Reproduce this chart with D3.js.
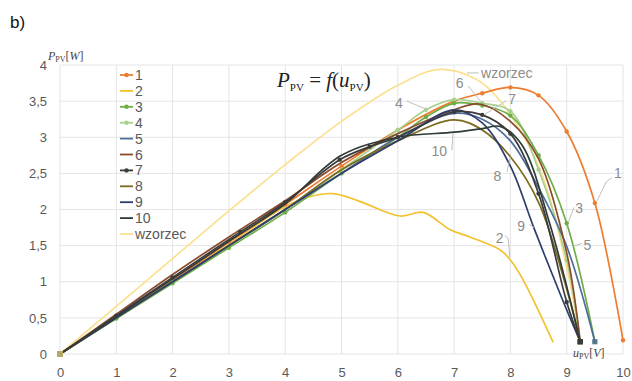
<!DOCTYPE html>
<html><head><meta charset="utf-8">
<script src="https://cdn.jsdelivr.net/npm/d3@7"></script>
<style>body{margin:0;background:#fff}svg{display:block}</style>
</head><body><svg id="c" width="632" height="381"></svg>
<script>
// ---- data (x = u_PV [V], y = P_PV [W]) ----
const seriesNames = ["1","2","3","4","5","6","7","8","9","10","wzorzec"];
const s1 = [[0,0],[1,0.5],[2,1.02],[3,1.55],[4,2.07],[5,2.6],[6,3.1],[7,3.5],[7.5,3.61],[8,3.69],[8.5,3.58],[9,3.08],[9.5,2.09],[10,0.19]];
const s2 = [[0,0],[1,0.5],[2,1.0],[3,1.52],[4,2.04],[4.4,2.17],[4.85,2.22],[5.3,2.12],[6.04,1.91],[6.45,1.96],[6.93,1.72],[7.28,1.62],[7.82,1.44],[8.0,1.30],[8.23,1.02],[8.76,0.16]];
const s3 = [[0,0],[1,0.49],[2,0.98],[3,1.47],[4,1.96],[5,2.5],[6,3.0],[6.5,3.28],[7,3.47],[7.5,3.44],[8,3.3],[8.5,2.75],[9,1.81],[9.5,0.17]];
const s4 = [[0,0],[1,0.5],[2,1.0],[3,1.5],[4,2.0],[5,2.55],[6,3.1],[6.5,3.38],[7,3.52],[7.5,3.47],[8,3.36],[8.5,2.55],[9,1.3],[9.24,0.17]];
const s5 = [[0,0],[1,0.5],[2,1.0],[3,1.5],[4,2.0],[5,2.5],[6,3.0],[7,3.33],[7.5,3.25],[8,2.95],[8.5,2.3],[9,1.49],[9.5,0.17]];
const s6 = [[0,0],[1,0.55],[2,1.1],[3,1.62],[4,2.12],[5,2.65],[6,3.05],[7,3.38],[7.45,3.46],[8,3.22],[8.5,2.7],[9,1.4],[9.24,0.17]];
const s7 = [[0,0],[1,0.53],[2,1.06],[3.2,1.69],[4,2.1],[4.97,2.69],[5.5,2.87],[6,3.0],[7,3.35],[7.5,3.31],[8,3.05],[8.5,2.22],[9,0.72],[9.24,0.17]];
const s8 = [[0,0],[1,0.5],[2,1.0],[3,1.5],[4,2.0],[5,2.55],[6,2.95],[7,3.24],[7.5,3.1],[8,2.73],[8.5,2.1],[9,0.9],[9.24,0.17]];
const s9 = [[0,0],[1,0.5],[2,1.0],[3,1.5],[4,2.0],[5,2.5],[6,2.95],[7,3.38],[7.5,3.2],[8,2.6],[8.41,1.76],[8.9,0.8],[9.24,0.17]];
const s10 = [[0,0],[1,0.52],[2,1.04],[3,1.56],[4,2.08],[5,2.75],[6,3.0],[7,3.07],[7.5,3.12],[7.82,3.15],[8.2,2.9],[8.7,1.8],[9.24,0.17]];
const sW = [[0,0],[1,0.66],[2,1.32],[3,1.98],[4,2.62],[5,3.22],[6,3.72],[6.75,3.94],[7.4,3.8],[7.8,3.52],[8.5,2.6],[9,1.2],[9.24,0.17]];
const seriesData = [s1,s2,s3,s4,s5,s6,s7,s8,s9,s10,sW];
const seriesColors = ["#ED7D31","#F2C12E","#6FAD47","#A9D18E","#4E6E9C","#8A4B2C","#3B3B3B","#7C6B1F","#2D3E6E","#2E3B36","#FBE08E"];
const seriesMarkers = [true,false,true,true,false,false,true,false,false,false,false];
const xTicks = [0,1,2,3,4,5,6,7,8,9,10];
const yTicks = [0,0.5,1,1.5,2,2.5,3,3.5,4];
// in-plot labels: text, text anchor (data units), leader polyline (data units)
const annoText = ["1","2","3","5","9","8","10","4","6","7","wzorzec"];
const annoPos = [[9.84,2.50],[7.74,1.61],[9.15,2.02],[9.30,1.51],[8.12,1.77],[7.70,2.46],[6.60,2.81],[5.95,3.47],[7.03,3.75],[7.96,3.53],[7.48,3.89]];
const annoLead = [
  [[9.80,2.44],[9.70,2.38],[9.54,2.12]],
  [[7.90,1.64],[7.96,1.60],[7.99,1.34]],
  [[9.13,2.03],[9.03,1.83]],
  [[9.27,1.53],[9.10,1.49]],
  [[8.34,1.79],[8.42,1.75]],
  [[7.94,2.52],[8.00,2.73]],
  [[6.96,2.82],[6.98,3.06]],
  [[6.16,3.50],[6.50,3.39]],
  [[7.25,3.71],[7.50,3.47]],
  [[7.92,3.50],[7.53,3.31]],
  [[7.23,3.89],[7.44,3.89]]
];

const svg = d3.select("#c");
const x = d3.scaleLinear().domain([0,10]).range([60,623]);
const y = d3.scaleLinear().domain([0,4]).range([354,65]);
const grey = "#595959";

// grid
svg.append("g").selectAll("line.v").data(xTicks).join("line")
  .attr("x1",d=>x(d)).attr("x2",d=>x(d)).attr("y1",y(0)).attr("y2",y(4))
  .attr("stroke","#E4E4E4").attr("stroke-width",1);
svg.append("g").selectAll("line.h").data(yTicks).join("line")
  .attr("x1",x(0)).attr("x2",x(10)).attr("y1",d=>y(d)).attr("y2",d=>y(d))
  .attr("stroke","#E4E4E4").attr("stroke-width",1);

// axes (labels only)
const fmt = d => String(d).replace(".",",");
const xAxis = d3.axisBottom(x).tickValues(xTicks).tickFormat(fmt).tickSize(0).tickPadding(14);
const gx = svg.append("g").attr("transform",`translate(0,${y(0)})`).call(xAxis);
const yAxis = d3.axisLeft(y).tickValues(yTicks).tickFormat(fmt).tickSize(0).tickPadding(13);
const gy = svg.append("g").attr("transform",`translate(${x(0)},0)`).call(yAxis);
[gx,gy].forEach(g=>{
  g.select(".domain").remove();
  g.selectAll("text").attr("fill",grey).style("font-family","Liberation Sans, Arial, sans-serif").style("font-size","13px");
});

// series lines
const line = d3.line().x(d=>x(d[0])).y(d=>y(d[1])).curve(d3.curveCatmullRom.alpha(0.5));
const order = [10,1,0,3,2,4,5,7,8,9,6];
order.forEach(i=>{
  svg.append("path").datum(seriesData[i]).attr("d",line)
    .attr("fill","none").attr("stroke",seriesColors[i]).attr("stroke-width",1.7);
  if(seriesMarkers[i]){
    svg.append("g").selectAll("circle").data(seriesData[i].slice(1)).join("circle")
      .attr("cx",d=>x(d[0])).attr("cy",d=>y(d[1])).attr("r",2.2).attr("fill",seriesColors[i]);
  }
  const last = seriesData[i][seriesData[i].length-1];
  if(i!==1 && i!==0){
    svg.append("rect").attr("x",x(last[0])-2.5).attr("y",y(last[1])-2.5).attr("width",5).attr("height",5)
      .attr("fill",seriesColors[i]).attr("opacity",0.8);
  }
});
svg.append("rect").attr("x",x(0)-3).attr("y",y(0)-3).attr("width",6).attr("height",6).attr("fill","#B5A66A");

// in-plot labels with leader lines
const lead = d3.line().x(d=>x(d[0])).y(d=>y(d[1]));
annoText.forEach((t,i)=>{
  svg.append("path").attr("d",lead(annoLead[i])).attr("fill","none").attr("stroke","#BFBFBF").attr("stroke-width",1);
  svg.append("text").attr("x",x(annoPos[i][0])).attr("y",y(annoPos[i][1]))
    .attr("dominant-baseline","central").attr("fill","#8C8C8C")
    .style("font-family","Liberation Sans, Arial, sans-serif").style("font-size","14px").text(t);
});

// legend
const lg = svg.append("g");
seriesNames.forEach((n,i)=>{
  const ly = 75 + i*15.9;
  lg.append("line").attr("x1",120).attr("x2",133).attr("y1",ly).attr("y2",ly)
    .attr("stroke",seriesColors[i]).attr("stroke-width",1.8);
  if(seriesMarkers[i]) lg.append("circle").attr("cx",126.5).attr("cy",ly).attr("r",2.2).attr("fill",seriesColors[i]);
  lg.append("text").attr("x",135).attr("y",ly).attr("dominant-baseline","central").attr("fill",grey)
    .style("font-family","Liberation Sans, Arial, sans-serif").style("font-size","14px").text(n);
});

// title formula
const serif = "Liberation Serif, Times New Roman, serif";
const tt = svg.append("text").attr("x",277).attr("y",87).attr("fill","#222").style("font-family",serif).style("font-size","21px");
tt.append("tspan").style("font-style","italic").text("P");
tt.append("tspan").attr("dy",4).style("font-size","11px").text("PV");
tt.append("tspan").attr("dy",-4).text(" = ");
tt.append("tspan").style("font-style","italic").text("f");
tt.append("tspan").text("(");
tt.append("tspan").style("font-style","italic").text("u");
tt.append("tspan").attr("dy",4).style("font-size","11px").text("PV");
tt.append("tspan").attr("dy",-4).text(")");

// axis titles
const ya = svg.append("text").attr("x",48).attr("y",60).attr("fill","#444").style("font-family",serif).style("font-size","12px");
ya.append("tspan").style("font-style","italic").text("P");
ya.append("tspan").attr("dy",2).style("font-size","8px").text("PV");
ya.append("tspan").attr("dy",-2).text("[");
ya.append("tspan").style("font-style","italic").text("W");
ya.append("tspan").text("]");
const xa = svg.append("text").attr("x",573).attr("y",357).attr("fill","#444").style("font-family",serif).style("font-size","12px");
xa.append("tspan").style("font-style","italic").text("u");
xa.append("tspan").attr("dy",2).style("font-size","8px").text("PV");
xa.append("tspan").attr("dy",-2).text("[");
xa.append("tspan").style("font-style","italic").text("V");
xa.append("tspan").text("]");

// panel label
svg.append("text").attr("x",10).attr("y",28).attr("fill","#111")
  .style("font-family","Liberation Sans, Arial, sans-serif").style("font-size","17px").text("b)");
</script></body></html>
